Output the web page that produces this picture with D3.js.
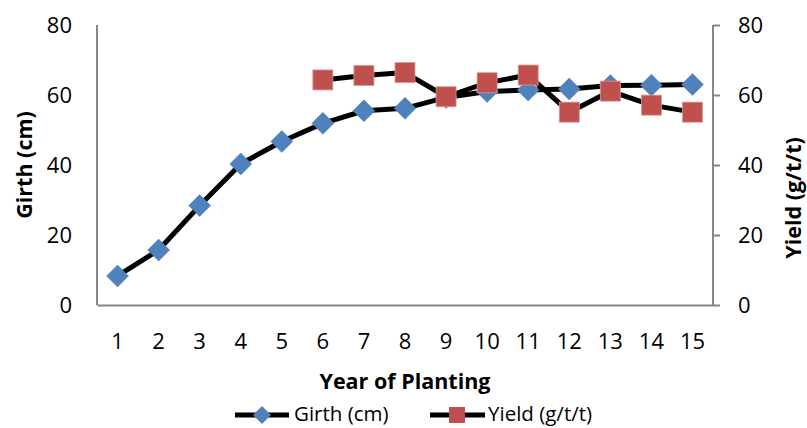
<!DOCTYPE html>
<html>
<head>
<meta charset="utf-8">
<script src="https://cdn.jsdelivr.net/npm/d3@7"></script>
<style>
  body { margin: 0; background: #fff; }
  text { font-family: "Open Sans", sans-serif; fill: #000; }
</style>
</head>
<body>
<div id="container"></div>
<script>
'use strict'

// chart data
const years = [1, 2, 3, 4, 5, 6, 7, 8, 9, 10, 11, 12, 13, 14, 15];
const girth = [8.3, 15.7, 28.4, 40.3, 46.7, 51.9, 55.5, 56.2, 59.3, 61.0, 61.4, 61.7, 62.7, 62.8, 63.0];
const yieldYears = [6, 7, 8, 9, 10, 11, 12, 13, 14, 15];
const yieldVals = [64.3, 65.6, 66.4, 59.5, 63.5, 65.7, 55.1, 61.1, 57.1, 55.1];
const yTicks = [0, 20, 40, 60, 80];

const width = 807, height = 428;
const margin = {top: 25, right: 94, bottom: 123, left: 97};

const svg = d3.select('#container').append('svg')
    .attr('width', width)
    .attr('height', height);

const x = d3.scaleBand()
    .domain(years)
    .range([margin.left, width - margin.right]);

const yL = d3.scaleLinear().domain([0, 80]).range([height - margin.bottom, margin.top]);
const yR = d3.scaleLinear().domain([0, 80]).range([height - margin.bottom, margin.top]);

const cx = d => x(d) + x.bandwidth() / 2;
const axisColor = '#868686';

// left axis (no tick marks)
const gL = svg.append('g')
    .attr('transform', `translate(${margin.left},0)`)
    .call(d3.axisLeft(yL).tickValues(yTicks).tickSize(0).tickPadding(25));
// right axis (outward ticks)
const gR = svg.append('g')
    .attr('transform', `translate(${width - margin.right},0)`)
    .call(d3.axisRight(yR).tickValues(yTicks).tickSize(7).tickPadding(18));
// bottom axis
const gB = svg.append('g')
    .attr('transform', `translate(0,${height - margin.bottom})`)
    .call(d3.axisBottom(x).tickSize(0).tickPadding(28));

[gL, gR, gB].forEach(g => {
  g.select('.domain').attr('stroke', axisColor).attr('stroke-width', 2);
  g.selectAll('.tick line').attr('stroke', axisColor).attr('stroke-width', 2);
  g.selectAll('.tick text').attr('font-size', 22).attr('font-family', '"Open Sans", sans-serif').attr('fill', '#000');
});
gL.select('.domain').attr('d', `M0,${margin.top}V${height - margin.bottom}`);
gR.select('.domain').attr('d', `M0,${margin.top}V${height - margin.bottom}`);

// lines
const girthData = years.map((d, i) => ({x: d, y: girth[i]}));
const yieldData = yieldYears.map((d, i) => ({x: d, y: yieldVals[i]}));

const lineL = d3.line().x(d => cx(d.x)).y(d => yL(d.y));
const lineR = d3.line().x(d => cx(d.x)).y(d => yR(d.y));

svg.append('path').datum(girthData)
    .attr('d', lineL).attr('fill', 'none').attr('stroke', '#000').attr('stroke-width', 5).attr('stroke-linejoin', 'round');
svg.append('path').datum(yieldData)
    .attr('d', lineR).attr('fill', 'none').attr('stroke', '#000').attr('stroke-width', 5).attr('stroke-linejoin', 'round');

const diamond = 'M0,-11L11,0L0,11L-11,0Z';
svg.selectAll('.gpt').data(girthData).enter().append('path')
    .attr('class', 'gpt')
    .attr('d', diamond)
    .attr('transform', d => `translate(${cx(d.x)},${yL(d.y)})`)
    .attr('fill', '#4F81BD').attr('stroke', '#4F81BD').attr('stroke-width', 0.5);

svg.selectAll('.ypt').data(yieldData).enter().append('rect')
    .attr('class', 'ypt')
    .attr('x', d => cx(d.x) - 10).attr('y', d => yR(d.y) - 10)
    .attr('width', 20).attr('height', 20)
    .attr('fill', '#C0504D').attr('stroke', '#D99694').attr('stroke-width', 0.8);

// axis titles
svg.append('text')
    .attr('x', 405).attr('y', 389)
    .attr('text-anchor', 'middle').attr('font-size', 21.5).attr('font-weight', 'bold')
    .text('Year of Planting');
svg.append('text')
    .attr('transform', 'translate(32,165) rotate(-90)')
    .attr('text-anchor', 'middle').attr('font-size', 21.5).attr('font-weight', 'bold')
    .text('Girth (cm)');
svg.append('text')
    .attr('transform', 'translate(801,198) rotate(-90)')
    .attr('text-anchor', 'middle').attr('font-size', 21.5).attr('font-weight', 'bold')
    .text('Yield (g/t/t)');

// legend
const legY = 415;
const leg = svg.append('g');
leg.append('line').attr('x1', 235).attr('x2', 289).attr('y1', legY).attr('y2', legY).attr('stroke', '#000').attr('stroke-width', 5);
leg.append('path').attr('d', 'M0,-9L9,0L0,9L-9,0Z').attr('transform', `translate(262,${legY})`).attr('fill', '#4F81BD');
leg.append('text').attr('x', 294).attr('y', legY + 6).attr('font-size', 20.5).text('Girth (cm)');
leg.append('line').attr('x1', 430).attr('x2', 485).attr('y1', legY).attr('y2', legY).attr('stroke', '#000').attr('stroke-width', 5);
leg.append('rect').attr('x', 457 - 8).attr('y', legY - 8).attr('width', 16).attr('height', 16).attr('fill', '#C0504D');
leg.append('text').attr('x', 488).attr('y', legY + 6).attr('font-size', 20.5).text('Yield (g/t/t)');
</script>
</body>
</html>
